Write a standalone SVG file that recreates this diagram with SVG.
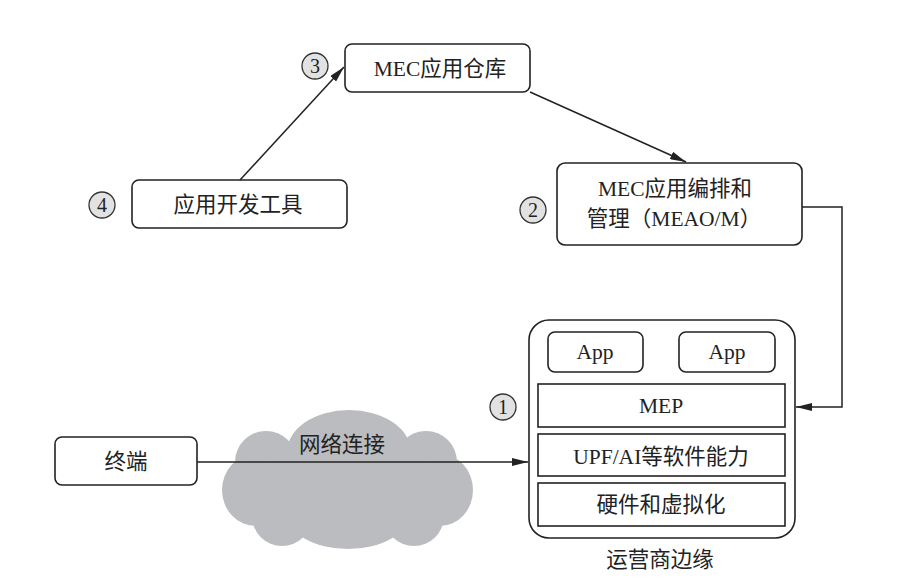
<svg xmlns="http://www.w3.org/2000/svg" width="898" height="580" viewBox="0 0 898 580">
<style>
.box{fill:#fff;stroke:#222;stroke-width:1.6}
.t{font-family:"Liberation Serif","Noto Sans CJK SC",serif;font-size:21.5px;fill:#222;text-anchor:middle}
.num circle{fill:#e2e2e2;stroke:#333;stroke-width:1.3}
.num text{font-family:"Liberation Serif",serif;font-size:20px;fill:#222;text-anchor:middle}
.c{fill:none;stroke:#222;stroke-width:1.5}
.cloud{fill:#bbbcbf}
</style>
<defs>
<marker id="ah" viewBox="0 0 16 8" refX="16" refY="4" markerWidth="16" markerHeight="8" markerUnits="userSpaceOnUse" orient="auto">
<path d="M0,0 L16,4 L0,8 Z" fill="#222"/>
</marker>
</defs>
<rect width="898" height="580" fill="#fff"/>

<g id="cloud" class="cloud">
<ellipse cx="349" cy="452" rx="62" ry="42"/>
<circle cx="266" cy="462" r="31"/>
<circle cx="426" cy="462" r="31"/>
<ellipse cx="256" cy="490" rx="34" ry="36"/>
<ellipse cx="440" cy="490" rx="33" ry="36"/>
<circle cx="282" cy="516" r="30"/>
<ellipse cx="348" cy="512" rx="62" ry="37"/>
<circle cx="414" cy="516" r="30"/>
<ellipse cx="348" cy="485" rx="100" ry="50"/>
</g>

<g id="repo">
<rect class="box" x="345" y="44" width="185" height="48" rx="7"/>
<text class="t" x="440" y="76">MEC应用仓库</text>
</g>
<g id="n3" class="num"><circle cx="315" cy="66" r="13"/><text x="315" y="73">3</text></g>

<g id="devtools">
<rect class="box" x="132" y="180" width="215" height="48" rx="7"/>
<text class="t" x="238" y="212">应用开发工具</text>
</g>
<g id="n4" class="num"><circle cx="102" cy="205" r="13"/><text x="102" y="212">4</text></g>

<g id="meao">
<rect class="box" x="557" y="163" width="245" height="82" rx="8"/>
<text class="t" x="675" y="196">MEC应用编排和</text>
<text class="t" x="674" y="226">管理（MEAO/M）</text>
</g>
<g id="n2" class="num"><circle cx="533" cy="210" r="13"/><text x="533" y="217">2</text></g>

<g id="terminal">
<rect class="box" x="55" y="437" width="142" height="48" rx="7"/>
<text class="t" x="126" y="469">终端</text>
</g>

<g id="edge">
<rect class="box" x="529" y="320" width="266" height="218" rx="20"/>
<rect class="box" x="548" y="332" width="95" height="40" rx="7"/>
<text class="t" x="595" y="359">App</text>
<rect class="box" x="679" y="332" width="96" height="40" rx="7"/>
<text class="t" x="727" y="359">App</text>
<rect class="box" x="538" y="384" width="247" height="43"/>
<text class="t" x="661" y="413">MEP</text>
<rect class="box" x="538" y="434" width="247" height="42"/>
<text class="t" x="661" y="464">UPF/AI等软件能力</text>
<rect class="box" x="538" y="483" width="247" height="43"/>
<text class="t" x="661" y="512">硬件和虚拟化</text>
<text class="t" x="660" y="567">运营商边缘</text>
</g>
<g id="n1" class="num"><circle cx="503" cy="407" r="13"/><text x="503" y="414">1</text></g>

<g id="connectors">
<line class="c" x1="240" y1="180" x2="344" y2="67" marker-end="url(#ah)"/>
<line class="c" x1="530" y1="92" x2="686" y2="162" marker-end="url(#ah)"/>
<polyline class="c" points="802,207 842,207 842,407 796,407" marker-end="url(#ah)"/>
<line class="c" x1="197" y1="462" x2="528" y2="462" marker-end="url(#ah)"/>
</g>
<text class="t" x="342" y="452">网络连接</text>
</svg>
